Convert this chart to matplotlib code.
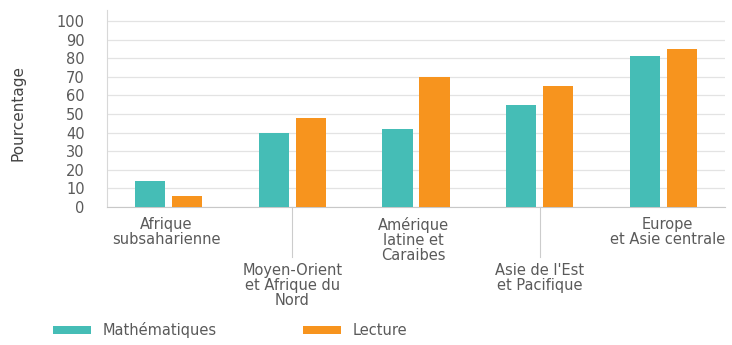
import matplotlib
matplotlib.use("Agg")
import matplotlib.pyplot as plt
import numpy as np
from matplotlib.transforms import blended_transform_factory

categories = ["Afrique\nsubsaharienne", "Moyen-Orient\net Afrique du\nNord",
              "Amérique\nlatine et\nCaraibes", "Asie de l'Est\net Pacifique",
              "Europe\net Asie centrale"]
maths = [14, 40, 42, 55, 81]
lecture = [6, 48, 70, 65, 85]
series_names = ["Mathématiques", "Lecture"]
yticks = list(range(0, 101, 10))

teal = "#45BDB6"
orange = "#F7941E"
txt = "#5a5a5a"

plt.rcParams['font.family'] = ['DejaVu Sans']
fig = plt.figure(figsize=(7.32, 3.45), dpi=100)
ax = fig.add_axes([107/732, 1-207/345, (725-107)/732, (207-10)/345])

x = np.arange(len(categories))
w = 0.245
ax.bar(x - 0.15, maths, w, color=teal, label=series_names[0], zorder=3)
ax.bar(x + 0.15, lecture, w, color=orange, label=series_names[1], zorder=3)

ax.set_xlim(-0.5, len(categories) - 0.5)
ax.set_ylim(0, 106)
ax.set_yticks(yticks)
ax.set_yticklabels([str(v) for v in yticks], fontsize=10.5, color=txt)
ax.tick_params(axis='y', length=0, pad=16)
ax.set_xticks([])
ax.yaxis.grid(True, color="#e3e3e3", linewidth=0.9, zorder=0)
for s in ["top", "right"]:
    ax.spines[s].set_visible(False)
ax.spines["left"].set_color("#d8d8d8")
ax.spines["bottom"].set_color("#c8c8c8")

trans = blended_transform_factory(ax.transData, ax.transAxes)
for i, lab in enumerate(categories):
    dx = 3 if i == len(categories) - 1 else -2
    if i % 2 == 0:
        ax.annotate(lab, xy=(i, 0), xycoords=trans, xytext=(dx, -7.5),
                    textcoords='offset points', ha='center', va='top',
                    fontsize=10.5, color=txt, linespacing=1.0)
    else:
        ax.plot([i, i], [0, -0.255], transform=trans, color="#cccccc",
                linewidth=0.8, clip_on=False)
        ax.annotate(lab, xy=(i, 0), xycoords=trans, xytext=(0, -40),
                    textcoords='offset points', ha='center', va='top',
                    fontsize=10.5, color=txt, linespacing=1.0)

fig.text(18/732, 1-113/345, "Pourcentage", rotation=90, ha='center',
         va='center', fontsize=11, color="#444444")

leg = fig.legend(loc='center left', bbox_to_anchor=(46/732, 1-330/345), ncol=2,
                 frameon=False, fontsize=10.5, handlelength=2.6, handleheight=0.45,
                 handletextpad=0.8, columnspacing=5.9, borderpad=0)
for t in leg.get_texts():
    t.set_color(txt)

fig.savefig("out.png", dpi=100)
